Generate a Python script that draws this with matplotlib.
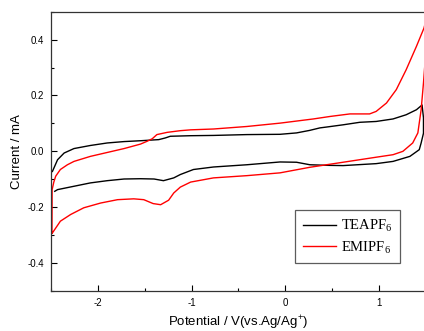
import numpy as np
import matplotlib
matplotlib.use('Agg')
import matplotlib.pyplot as plt
from matplotlib.ticker import MultipleLocator

# cyclic voltammograms (potential in V, current in mA)
# each loop: forward scan left -> right, then back right -> left
tea_potential = [-2.485, -2.43, -2.36, -2.255, -2.08, -1.90, -1.72, -1.545, -1.35, -1.28,
                 -1.227, -1.01, -0.766, -0.41, -0.056, 0.12, 0.26, 0.37, 0.44, 0.617,
                 0.795, 0.97, 1.15, 1.29, 1.40, 1.46, 1.475, 1.475, 1.45, 1.43,
                 1.33, 1.15, 0.97, 0.617, 0.44, 0.263, 0.12, -0.056, -0.41, -0.766,
                 -0.98, -1.12, -1.19, -1.30, -1.40, -1.545, -1.72, -1.90, -2.08, -2.255,
                 -2.43, -2.46]
tea_current = [-0.072, -0.030, -0.006, 0.010, 0.021, 0.030, 0.035, 0.038, 0.042, 0.048,
               0.054, 0.056, 0.057, 0.060, 0.061, 0.066, 0.075, 0.084, 0.087, 0.095,
               0.104, 0.107, 0.116, 0.131, 0.149, 0.166, 0.12, 0.065, 0.030, 0.006,
               -0.018, -0.036, -0.044, -0.051, -0.050, -0.048, -0.039, -0.038, -0.048, -0.056,
               -0.065, -0.083, -0.095, -0.105, -0.099, -0.098, -0.099, -0.105, -0.113, -0.125,
               -0.137, -0.143]

emi_potential = [-2.49, -2.488, -2.47, -2.45, -2.40, -2.325, -2.255, -2.08, -1.90, -1.72,
                 -1.545, -1.475, -1.42, -1.37, -1.26, -1.12, -1.01, -0.766, -0.41, -0.056,
                 0.30, 0.48, 0.69, 0.90, 0.97, 1.08, 1.185, 1.29, 1.40, 1.48,
                 1.51, 1.51, 1.475, 1.45, 1.415, 1.36, 1.255, 1.15, 0.97, 0.617,
                 0.263, -0.056, -0.41, -0.766, -1.01, -1.12, -1.19, -1.245, -1.33, -1.41,
                 -1.51, -1.617, -1.79, -1.97, -2.15, -2.29, -2.40, -2.485]
emi_current = [-0.292, -0.137, -0.110, -0.089, -0.065, -0.048, -0.036, -0.018, -0.004, 0.010,
               0.026, 0.036, 0.045, 0.060, 0.068, 0.074, 0.077, 0.080, 0.089, 0.101,
               0.116, 0.125, 0.134, 0.134, 0.143, 0.173, 0.221, 0.292, 0.376, 0.441,
               0.480, 0.400, 0.245, 0.149, 0.066, 0.030, 0.000, -0.012, -0.021, -0.039,
               -0.057, -0.077, -0.087, -0.095, -0.110, -0.128, -0.149, -0.175, -0.191, -0.187,
               -0.173, -0.170, -0.173, -0.185, -0.202, -0.226, -0.250, -0.292]

plt.rcParams['font.family'] = ['Liberation Sans', 'DejaVu Sans']

fig = plt.figure(figsize=(4.24, 3.31), dpi=100)
# right spine sits just outside the picture, like the cropped original
ax = fig.add_axes([0.1203, 0.1208, 0.884, 0.8439])

ax.plot(tea_potential, tea_current, color='black', lw=1.0, label='TEAPF$_\\mathregular{6}$')
ax.plot(emi_potential, emi_current, color='red', lw=1.0, label='EMIPF$_\\mathregular{6}$')

ax.set_xlim(-2.5, 1.5)
ax.set_ylim(-0.5, 0.5)
ax.xaxis.set_major_locator(MultipleLocator(1))
ax.xaxis.set_minor_locator(MultipleLocator(0.5))
ax.yaxis.set_major_locator(MultipleLocator(0.2))
ax.yaxis.set_minor_locator(MultipleLocator(0.1))
ax.tick_params(which='both', direction='in', top=False, right=False, labelsize=7, pad=5)
ax.tick_params(which='major', length=4, width=0.8)
ax.tick_params(which='minor', length=2.5, width=0.8)
ax.set_yticks([-0.4, -0.2, 0.0, 0.2, 0.4])
ax.set_yticklabels(['-0.4', '-0.2', '0.0', '0.2', '0.4'])
ax.set_xticks([-2, -1, 0, 1])
ax.set_xticklabels(['-2', '-1', '0', '1'])
for s in ax.spines.values():
    s.set_linewidth(0.9)
    s.set_color('#333333')

ax.set_xlabel('Potential / V(vs.Ag/Ag$^\\mathregular{+}$)', fontsize=9.5, labelpad=4.5)
ax.set_ylabel('Current / mA', fontsize=9.5, labelpad=3)

leg = ax.legend(loc='lower left', bbox_to_anchor=(0.652, 0.101), borderaxespad=0,
                prop={'family': 'Liberation Serif', 'size': 10.5},
                frameon=True, fancybox=False, edgecolor='#333333', handlelength=2.3,
                handletextpad=0.3, borderpad=0.5, labelspacing=0.3)
leg.get_frame().set_linewidth(0.9)

fig.savefig('out.png', dpi=100)
